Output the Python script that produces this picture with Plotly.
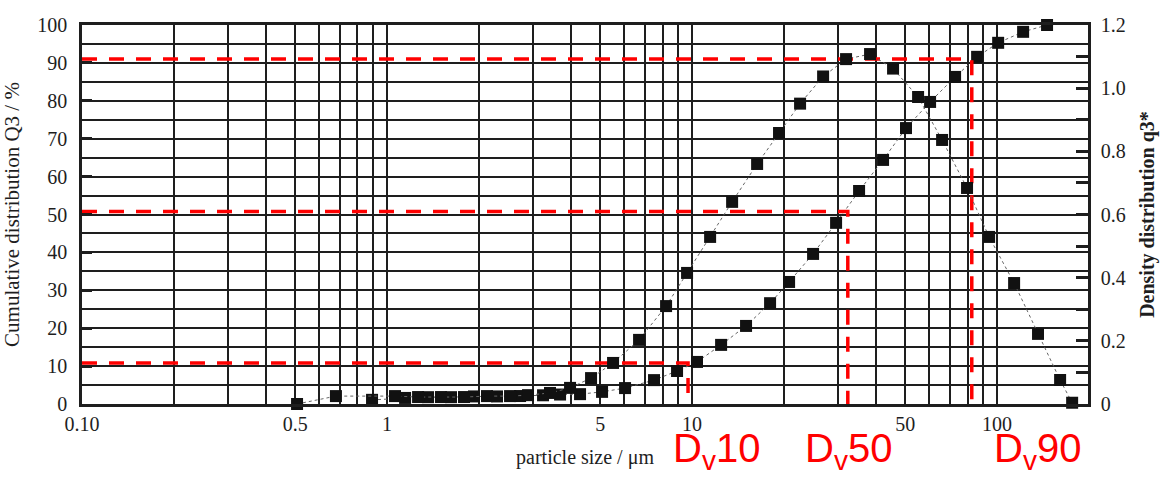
import plotly.graph_objects as go
import numpy as np

# ---- data ----
density_size = [0.507, 0.680, 1.062, 1.264, 1.503, 1.788, 2.127, 2.531, 2.899, 3.422,
                3.981, 4.665, 5.508, 6.703, 8.219, 9.630, 11.46, 13.53, 16.34, 19.28,
                22.60, 26.89, 31.98, 38.33, 45.60, 55.08, 66.02, 79.70, 94.15, 113.7,
                136.2, 160.9, 176.2]
density_q3 = [0.0, 0.025, 0.025, 0.022, 0.022, 0.022, 0.025, 0.025, 0.028, 0.035,
              0.051, 0.082, 0.130, 0.203, 0.310, 0.415, 0.529, 0.640, 0.760, 0.858,
              0.951, 1.037, 1.092, 1.108, 1.062, 0.972, 0.836, 0.684, 0.529, 0.383,
              0.222, 0.076, 0.004]

cum_size = [0.893, 1.146, 1.363, 1.621, 1.928, 2.294, 2.730, 3.247, 3.692, 4.293,
            5.069, 6.030, 7.504, 8.929, 10.38, 12.45, 15.03, 18.02, 20.80, 24.93,
            29.66, 35.28, 42.28, 50.28, 60.30, 72.82, 86.00, 100.8, 121.7, 145.8,
            173.5]
cum_Q3 = [1.1, 1.6, 1.8, 1.8, 2.0, 2.0, 2.1, 2.3, 2.5, 2.6,
          3.2, 4.2, 6.3, 8.7, 11.1, 15.6, 20.6, 26.6, 32.2, 39.6,
          47.8, 56.2, 64.4, 72.8, 79.7, 86.3, 91.6, 95.3, 98.2, 100.0,
          100.4]

dv_names = ["D<sub>v</sub>10", "D<sub>v</sub>50", "D<sub>v</sub>90"]
dv_sizes = [9.7, 32.4, 82.6]
dv_levels = [10.8, 50.8, 91.0]
dv_label_pos = [11.98, 32.45, 135.2]

x_tickvals = [0.1, 0.5, 1, 5, 10, 50, 100]
x_ticktext = ["0.10", "0.5", "1", "5", "10", "50", "100"]
y2_tickvals = [0, 0.2, 0.4, 0.6, 0.8, 1.0, 1.2]
y2_ticktext = ["0", "0.2", "0.4", "0.6", "0.8", "1.0", "1.2"]

x_minor = [m * 10.0 ** d for d in (-1, 0, 1, 2) for m in range(1, 10)]
x_minor = [v for v in x_minor if v <= 200]

INK = "#1e1e1e"
SERIF = "Liberation Serif, Times New Roman, serif"

fig = go.Figure()

# connecting dotted lines + square markers
fig.add_trace(go.Scatter(
    x=cum_size, y=cum_Q3, mode="lines+markers", yaxis="y",
    line=dict(color="#666", width=1, dash="dot"),
    marker=dict(symbol="square", size=12, color="#111"),
    cliponaxis=False, showlegend=False, name="Q3"))
fig.add_trace(go.Scatter(
    x=density_size, y=density_q3, mode="lines+markers", yaxis="y2",
    line=dict(color="#666", width=1, dash="dot"),
    marker=dict(symbol="square", size=12, color="#111"),
    cliponaxis=False, showlegend=False, name="q3*"))

# red D-value guides
for d, lvl in zip(dv_sizes, dv_levels):
    fig.add_trace(go.Scatter(
        x=[x_tickvals[0], d, d], y=[lvl, lvl, 0], mode="lines", yaxis="y",
        line=dict(color="#ff0000", width=3.5, dash="15px,12px"),
        showlegend=False, hoverinfo="skip"))

annotations = []
for name, xp in zip(dv_names, dv_label_pos):
    annotations.append(dict(
        x=np.log10(xp), y=-0.125, xref="x", yref="paper", text=name,
        showarrow=False, xanchor="center", yanchor="middle",
        font=dict(family="Liberation Sans, Arial, sans-serif", size=40, color="#ff0000")))

grid = dict(showgrid=True, gridcolor=INK, gridwidth=1.5)

fig.update_layout(
    width=1165, height=477,
    margin=dict(l=82, r=77, t=25, b=73, autoexpand=False),
    paper_bgcolor="white", plot_bgcolor="white",
    font=dict(family=SERIF, size=20, color=INK),
    xaxis=dict(
        type="log", range=[-1, 2.298], automargin=False,
        tickvals=x_tickvals, ticktext=x_ticktext, ticks="",
        **grid,
        minor=dict(tickvals=x_minor, showgrid=True, gridcolor=INK, gridwidth=1.5, ticks=""),
        showline=True, linecolor=INK, linewidth=2.5, mirror=True,
        zeroline=False,
        title=dict(text="particle size / μm", font=dict(size=20), standoff=17),
        tickfont=dict(size=20),
    ),
    yaxis=dict(
        range=[0, 100], dtick=10, tick0=0, automargin=False,
        ticks="inside", ticklen=10, tickwidth=2.5, tickcolor=INK,
        **grid,
        minor=dict(dtick=5, showgrid=True, gridcolor=INK, gridwidth=1.5, ticks=""),
        showline=True, linecolor=INK, linewidth=2.5, mirror=True,
        zeroline=False, ticklabelstandoff=8,
        title=dict(text="Cumulative distribution Q3 / %", font=dict(size=21), standoff=12),
        tickfont=dict(size=20),
    ),
    yaxis2=dict(
        overlaying="y", side="right", range=[0, 1.2], automargin=False,
        tickvals=y2_tickvals, ticktext=y2_ticktext,
        ticks="inside", ticklen=12, tickwidth=2.5, tickcolor=INK,
        minor=dict(dtick=0.1, tick0=0, ticks="inside", ticklen=12, tickwidth=2.5,
                   tickcolor=INK, showgrid=False),
        showgrid=False, zeroline=False,
        showline=True, linecolor=INK, linewidth=2.5,
        ticklabelstandoff=6,
        title=dict(text="<b>Density distribution q3*</b>", font=dict(size=20), standoff=16),
        tickfont=dict(size=20),
    ),
    annotations=annotations,
)

fig.write_html("out.html", config={"displayModeBar": False},
               post_script="document.body.style.margin='0';")
